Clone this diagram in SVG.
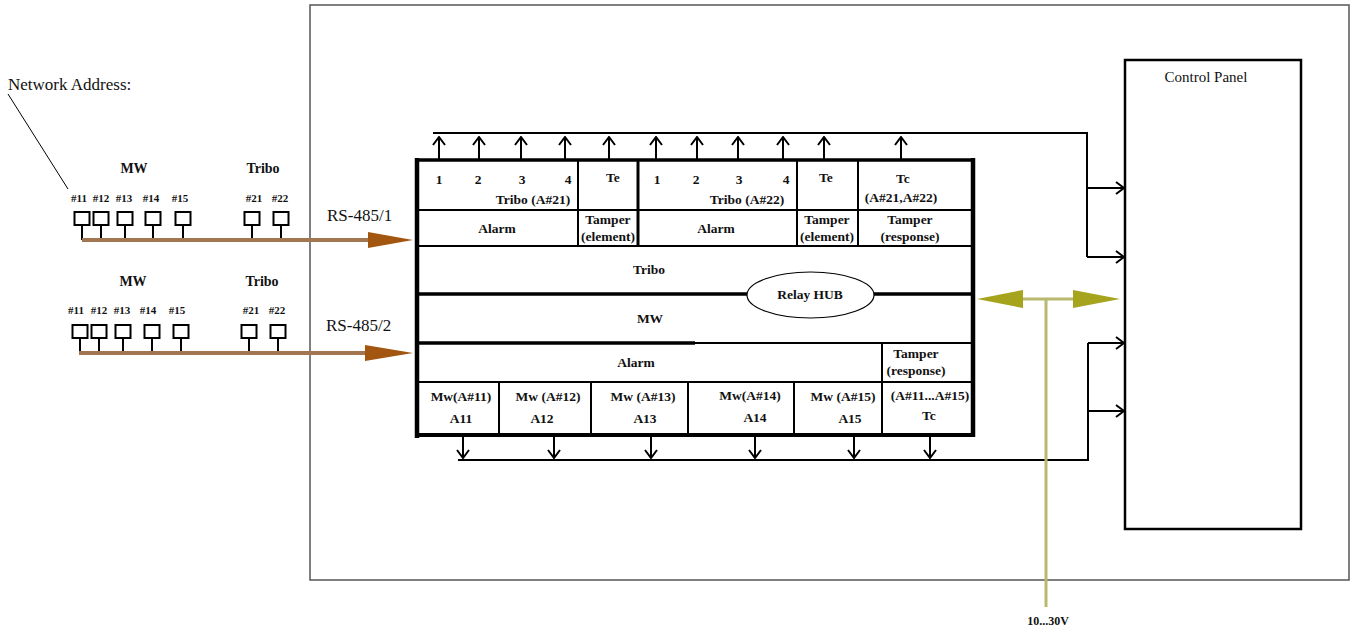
<svg xmlns="http://www.w3.org/2000/svg" width="1355" height="630" viewBox="0 0 1355 630">
<defs>
<style>
.b{font-family:"Liberation Serif","DejaVu Serif","Times New Roman",serif;font-weight:bold;font-size:13.5px;text-anchor:middle;fill:#111}
.s{font-family:"Liberation Serif","DejaVu Serif","Times New Roman",serif;font-weight:bold;font-size:11px;text-anchor:middle;fill:#111}
.r{font-family:"Liberation Serif","DejaVu Serif","Times New Roman",serif;font-size:17px;fill:#111}
.ln{stroke:#000;stroke-width:2;fill:none}
.tk{stroke:#000;stroke-width:3.5;fill:none}
.con{stroke:#000;stroke-width:2;fill:none}
.bus{stroke:#a27650;stroke-width:4;fill:none}
.bhead{fill:#a3560f}
.sensor{fill:#fff;stroke:#000;stroke-width:2}
.pw{stroke:#b8b86e;stroke-width:3;fill:none}
.phead{fill:#a6a41c}
</style>
<marker id="chev" viewBox="0 0 10 14" refX="9" refY="7" markerWidth="10" markerHeight="14" markerUnits="userSpaceOnUse" orient="auto">
<path d="M1,1 L9,7 L1,13" fill="none" stroke="#000" stroke-width="2"/>
</marker>
</defs>
<rect width="1355" height="630" fill="#fff"/>

<g id="frame">
<rect x="310" y="5" width="1039" height="575" fill="none" stroke="#555" stroke-width="1.5"/>
</g>

<g id="network-address">
<text class="r" x="8" y="90">Network Address:</text>
<path d="M8,94 L68,189" stroke="#000" stroke-width="1" fill="none"/>
</g>

<g id="bus1-sensors">
<text class="b" x="134" y="173" style="font-size:14px">MW</text>
<text class="b" x="263" y="173" style="font-size:14px">Tribo</text>
<text class="s" x="79" y="202">#11</text>
<text class="s" x="101" y="202">#12</text>
<text class="s" x="124" y="202">#13</text>
<text class="s" x="151" y="202">#14</text>
<text class="s" x="180" y="202">#15</text>
<text class="s" x="254" y="202">#21</text>
<text class="s" x="280" y="202">#22</text>
<path class="ln" d="M82,225V240M101,225V240M125,225V240M153,225V240M183,225V240M252,225V240M281,225V240"/>
<rect class="sensor" x="74.5" y="212" width="15" height="13"/>
<rect class="sensor" x="93.5" y="212" width="15" height="13"/>
<rect class="sensor" x="117.5" y="212" width="15" height="13"/>
<rect class="sensor" x="145.5" y="212" width="15" height="13"/>
<rect class="sensor" x="175.5" y="212" width="15" height="13"/>
<rect class="sensor" x="244.5" y="212" width="15" height="13"/>
<rect class="sensor" x="273.5" y="212" width="15" height="13"/>
</g>

<g id="bus2-sensors">
<text class="b" x="133" y="286" style="font-size:14px">MW</text>
<text class="b" x="262" y="286" style="font-size:14px">Tribo</text>
<text class="s" x="76" y="314">#11</text>
<text class="s" x="99" y="314">#12</text>
<text class="s" x="122" y="314">#13</text>
<text class="s" x="148" y="314">#14</text>
<text class="s" x="177" y="314">#15</text>
<text class="s" x="251" y="314">#21</text>
<text class="s" x="277" y="314">#22</text>
<path class="ln" d="M80,338V353M99,338V353M123,338V353M152,338V353M181,338V353M249,338V353M278,338V353"/>
<rect class="sensor" x="72.5" y="325" width="15" height="13"/>
<rect class="sensor" x="91.5" y="325" width="15" height="13"/>
<rect class="sensor" x="115.5" y="325" width="15" height="13"/>
<rect class="sensor" x="144.5" y="325" width="15" height="13"/>
<rect class="sensor" x="173.5" y="325" width="15" height="13"/>
<rect class="sensor" x="241.5" y="325" width="15" height="13"/>
<rect class="sensor" x="270.5" y="325" width="15" height="13"/>
</g>

<g id="relay-unit">
<rect x="417" y="160" width="556" height="275" fill="#fff" stroke="none"/>
<path class="ln" d="M417,210H973M417,246H973"/>
<path class="ln" d="M578,160V246M797,160V246M858,160V246"/>
<path class="tk" d="M638,160V246" style="stroke-width:3"/>
<path class="tk" d="M417,294H748M873,294H973" style="stroke-width:3.5"/>
<path class="tk" d="M417,343H695"/>
<path class="ln" d="M695,343H973"/>
<path class="ln" d="M882,343V382M417,382H973"/>
<path class="ln" d="M499,382V435M591,382V435M688,382V435M794,382V435M882,382V435"/>
<path class="tk" d="M417,158V438" style="stroke-width:4.5"/>
<path class="tk" d="M417,160H973" style="stroke-width:3.5"/>
<path class="tk" d="M973,158V437" style="stroke-width:4.5"/>
<path class="tk" d="M415,435H975" style="stroke-width:4"/>
<text class="b" x="439" y="184">1</text>
<text class="b" x="478" y="184">2</text>
<text class="b" x="522" y="184">3</text>
<text class="b" x="568" y="184">4</text>
<text class="b" x="533" y="204">Tribo (A#21)</text>
<text class="b" x="613" y="182">Te</text>
<text class="b" x="657" y="184">1</text>
<text class="b" x="696" y="184">2</text>
<text class="b" x="739" y="184">3</text>
<text class="b" x="786" y="184">4</text>
<text class="b" x="747" y="204">Tribo  (A#22)</text>
<text class="b" x="826" y="182">Te</text>
<text class="b" x="903" y="183">Tc</text>
<text class="b" x="901" y="202">(A#21,A#22)</text>
<text class="b" x="497" y="233">Alarm</text>
<text class="b" x="608" y="224">Tamper</text>
<text class="b" x="608" y="241">(element)</text>
<text class="b" x="716" y="233">Alarm</text>
<text class="b" x="827" y="224">Tamper</text>
<text class="b" x="827" y="241">(element)</text>
<text class="b" x="910" y="224">Tamper</text>
<text class="b" x="910" y="241">(response)</text>
<text class="b" x="649" y="274">Tribo</text>
<text class="b" x="650" y="323">MW</text>
<text class="b" x="636" y="367">Alarm</text>
<text class="b" x="916" y="358">Tamper</text>
<text class="b" x="916" y="375">(response)</text>
<text class="b" x="461" y="401">Mw(A#11)</text>
<text class="b" x="461" y="423">A11</text>
<text class="b" x="548" y="401">Mw (A#12)</text>
<text class="b" x="542" y="423">A12</text>
<text class="b" x="643" y="401">Mw (A#13)</text>
<text class="b" x="645" y="423">A13</text>
<text class="b" x="750" y="400">Mw(A#14)</text>
<text class="b" x="755" y="422">A14</text>
<text class="b" x="843" y="401">Mw (A#15)</text>
<text class="b" x="850" y="423">A15</text>
<text class="b" x="930" y="400">(A#11...A#15)</text>
<text class="b" x="929" y="420">Tc</text>
</g>

<g id="relay-hub">
<ellipse cx="810.5" cy="295" rx="63.5" ry="23" fill="#fff" stroke="#000" stroke-width="1.2"/>
<text class="b" x="810" y="299">Relay HUB</text>
</g>

<g id="control-panel">
<rect x="1125" y="60" width="176" height="469" fill="#fff" stroke="#000" stroke-width="2.5"/>
<text class="r" x="1206" y="82" style="font-size:15px;text-anchor:middle">Control Panel</text>
</g>

<g id="connectors">
<path class="bus" d="M82,240H372"/>
<polygon class="bhead" points="368,232 413,240 368,248"/>
<text class="r" x="327" y="221">RS-485/1</text>
<path class="bus" d="M79,353H369"/>
<polygon class="bhead" points="365,345 413,353 365,361"/>
<text class="r" x="326" y="331">RS-485/2</text>

<path class="con" d="M433,133H1087V257"/>
<path class="con" d="M1087,188H1124" marker-end="url(#chev)"/>
<path class="con" d="M1087,257H1124" marker-end="url(#chev)"/>
<path class="con" d="M439,160V137" marker-end="url(#chev)"/>
<path class="con" d="M479,160V137" marker-end="url(#chev)"/>
<path class="con" d="M521,160V137" marker-end="url(#chev)"/>
<path class="con" d="M565,160V137" marker-end="url(#chev)"/>
<path class="con" d="M609,160V137" marker-end="url(#chev)"/>
<path class="con" d="M656,160V137" marker-end="url(#chev)"/>
<path class="con" d="M697,160V137" marker-end="url(#chev)"/>
<path class="con" d="M738,160V137" marker-end="url(#chev)"/>
<path class="con" d="M783,160V137" marker-end="url(#chev)"/>
<path class="con" d="M824,160V137" marker-end="url(#chev)"/>
<path class="con" d="M901,160V137" marker-end="url(#chev)"/>

<path class="con" d="M458,460H1088V343"/>
<path class="con" d="M1088,343H1124" marker-end="url(#chev)"/>
<path class="con" d="M1088,411H1124" marker-end="url(#chev)"/>
<path class="con" d="M463,437V458" marker-end="url(#chev)"/>
<path class="con" d="M554,437V458" marker-end="url(#chev)"/>
<path class="con" d="M651,437V458" marker-end="url(#chev)"/>
<path class="con" d="M755,437V458" marker-end="url(#chev)"/>
<path class="con" d="M854,437V458" marker-end="url(#chev)"/>
<path class="con" d="M930,437V458" marker-end="url(#chev)"/>

<path class="pw" d="M1020,299H1076M1046,299V607"/>
<polygon class="phead" points="977,299 1023,290 1023,308"/>
<polygon class="phead" points="1120,299 1073,290 1073,308"/>
<text class="s" x="1048" y="625" style="font-size:12px">10...30V</text>
</g>
</svg>
